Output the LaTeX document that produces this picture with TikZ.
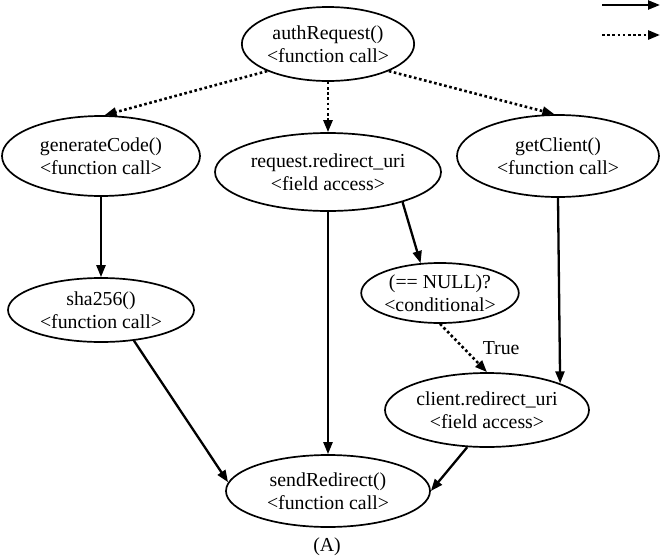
\documentclass[tikz,border=0pt]{standalone}
\usepackage{fontspec}
\setmainfont{Liberation Serif}
\usetikzlibrary{shapes.geometric,arrows.meta}
\begin{document}
\begin{tikzpicture}[x=1pt,y=-1pt,
  nd/.style={ellipse,draw,line width=1.7pt,inner sep=0pt,align=center,font=\fontsize{19.8}{23}\selectfont},
  lbl/.style={font=\fontsize{19.8}{23}\selectfont,inner sep=0pt},
  sol/.style={line width=2.3pt,-{Triangle[length=12pt,width=9pt]}},
  dotl/.style={line width=2.6pt,dash pattern=on 2.6pt off 2.6pt,-{Triangle[length=12pt,width=9pt]}}]
\useasboundingbox (0,0) rectangle (662,560);
\node[nd,minimum width=170pt,minimum height=74pt] (auth) at (328,44) {authRequest()\\<function call>};
\node[nd,minimum width=198pt,minimum height=80pt] (gen) at (101,156) {generateCode()\\<function call>};
\node[nd,minimum width=226pt,minimum height=78pt] (req) at (328,172) {request.redirect\_uri\\<field access>};
\node[nd,minimum width=202pt,minimum height=82pt] (getc) at (558,156) {getClient()\\<function call>};
\node[nd,minimum width=186pt,minimum height=64pt] (sha) at (101,310) {sha256()\\<function call>};
\node[nd,minimum width=156pt,minimum height=60pt] (cond) at (440,293) {(== NULL)?\\<conditional>};
\node[nd,minimum width=204pt,minimum height=74pt] (cli) at (487,410) {client.redirect\_uri\\<field access>};
\node[nd,minimum width=204pt,minimum height=72pt] (send) at (328,491) {sendRedirect()\\<function call>};
\node[lbl] (cap) at (327,547) {(A)};
\draw[dotl] (auth.-156) -- (gen.85);
\draw[dotl] (auth.south) -- (req.north);
\draw[dotl] (auth.-24) -- (getc.95);
\draw[sol] (gen.south) -- (sha.north);
\draw[sol] (req.south) -- (send.north);
\draw[sol] (req.-22) -- (cond.123);
\draw[sol] (getc.south) -- (cli.20);
\draw[dotl] (cond.south) -- (cli.north) node[pos=0.5,right=18pt,lbl] (tl) {True};
\draw[sol] (sha.-43) -- (send.175);
\draw[sol] (cli.-118) -- (send.east);
\coordinate (l1a) at (602,5);
\coordinate (l1b) at (660,5);
\coordinate (l2a) at (602,35);
\coordinate (l2b) at (660,35);
\draw[sol] (l1a) -- (l1b);
\draw[dotl] (l2a) -- (l2b);
\end{tikzpicture}
\end{document}
